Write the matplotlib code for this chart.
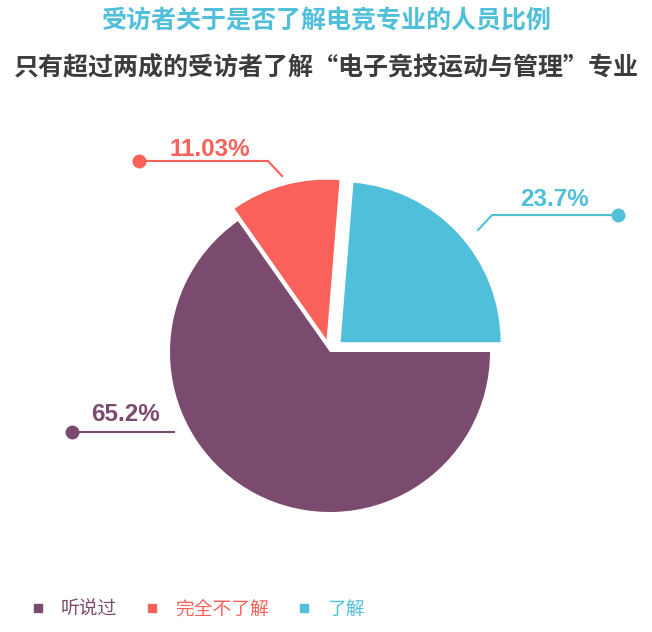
import matplotlib
matplotlib.use("Agg")
import matplotlib.pyplot as plt
from matplotlib.lines import Line2D

plt.rcParams['font.family'] = ['Noto Sans CJK SC', 'DejaVu Sans']

# data
labels = ["听说过", "完全不了解", "了解"]
values = [65.2, 11.03, 23.7]
value_text = ["65.2%", "11.03%", "23.7%"]
colors = ["#7a4b6e", "#fa615a", "#50c0da"]
explode = [0, 0.08, 0.09]

fig = plt.figure(figsize=(6.52, 6.32), dpi=100)
# pie centre at (330, 352) px, radius 160 px -> axes spans +-1.7 radius
ax = fig.add_axes([58 / 652, 8 / 632, 544 / 652, 544 / 632])
ax.pie(values, colors=colors, explode=explode, startangle=0,
       counterclock=False, radius=1)
ax.set_xlim(-1.7, 1.7)
ax.set_ylim(-1.7, 1.7)
ax.axis('off')

# leader lines (path points, dot at the first point) and label positions
leaders = [
    ([-1.6125, -0.975], [-0.5, -0.5]),
    ([-1.194, -0.388, -0.30], [1.194, 1.194, 1.10]),
    ([1.80, 1.0125, 0.925], [0.856, 0.856, 0.7625]),
]
text_pos = [(-1.275, -0.39), (-0.75, 1.2625), (1.406, 0.95)]

for i in range(3):
    xs, ys = leaders[i]
    ax.plot(xs, ys, color=colors[i], lw=1.5, clip_on=False)
    ax.plot(xs[0], ys[0], 'o', color=colors[i], ms=9, clip_on=False)
    ax.text(text_pos[i][0], text_pos[i][1], value_text[i], color=colors[i],
            fontsize=17.5, fontweight='bold', family=['Liberation Sans'],
            ha='center', va='center')

fig.text(0.5, 1 - 20 / 632, "受访者关于是否了解电竞专业的人员比例",
         color="#50c0da", fontsize=18, fontweight='bold', ha='center', va='center')
fig.text(0.5, 1 - 68 / 632, "只有超过两成的受访者了解“电子竞技运动与管理”专业",
         color="#3c3c3c", fontsize=18, fontweight='bold', ha='center', va='center')

handles = [Line2D([], [], marker='s', ls='', color=c, ms=6) for c in colors]
fig.legend(handles, labels, loc='center left', bbox_to_anchor=(30 / 652, 1 - 609 / 632),
           ncol=3, frameon=False, fontsize=13.5, labelcolor=colors,
           handlelength=0.8, handletextpad=0.85, columnspacing=1.45,
           borderaxespad=0, borderpad=0)

fig.savefig("out.png", dpi=100, facecolor='white')
